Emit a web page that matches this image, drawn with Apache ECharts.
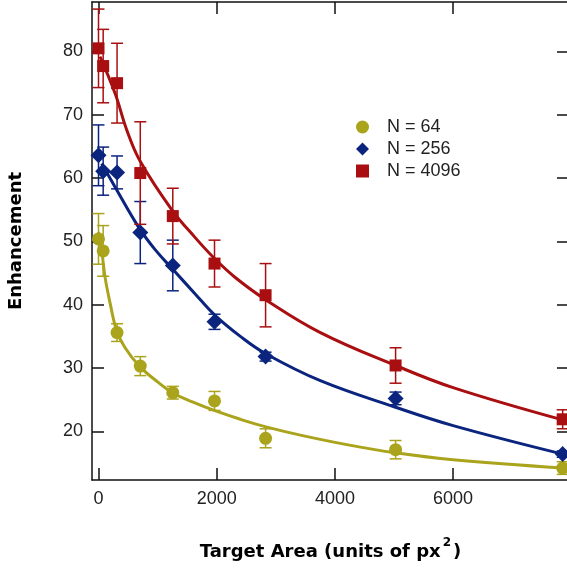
<!DOCTYPE html>
<html>
<head>
<meta charset="UTF-8">
<title>Enhancement vs Target Area</title>
<script src="https://cdn.jsdelivr.net/npm/echarts@6/dist/echarts.min.js"></script>
<style>
	html, body { margin: 0; padding: 0; background: #fff; }
	#chart { width: 567px; height: 569px; }
</style>
</head>
<body>
	<div id="chart"></div>
	<script>
	// target areas (px^2)
	var areas = [0, 79, 314, 707, 1257, 1963, 2827, 5027, 7854];
	// measured enhancement and error (+/-)
	var n64 = [50.4, 48.5, 35.6, 30.3, 26.1, 24.8, 18.9, 17.1, 14.2];
	var n64Err = [4.0, 4.0, 1.4, 1.5, 1.0, 1.5, 1.5, 1.45, 1.0];
	var n256 = [63.6, 61.1, 60.9, 51.4, 46.2, 37.3, 31.8, 25.2, 16.4];
	var n256Err = [4.8, 3.8, 2.6, 4.9, 4.0, 1.2, 0.7, 1.0, 0.5];
	var n4096 = [80.5, 77.7, 75.0, 60.8, 54.0, 46.5, 41.5, 30.4, 21.9];
	var n4096Err = [6.2, 5.8, 6.3, 8.1, 4.4, 3.7, 5.0, 2.8, 1.5];
	// fitted curves as [area, enhancement]
	var fit64 = [[0, 51.5], [54, 48.6], [110, 44.4], [195, 40.3], [308, 35.9], [450, 33.2],
		[692, 30.3], [1000, 27.8], [1251, 26.1], [1600, 24.6], [1958, 23.3], [2400, 21.9],
		[2834, 20.7], [3415, 19.4], [4200, 17.9], [5027, 16.6], [6000, 15.5], [7854, 14.2]];
	var fit256 = [[54, 62.3], [280, 58.6], [675, 52.3], [958, 48.7], [1257, 45.6], [1636, 41.7],
		[1963, 38.4], [2400, 35.0], [2822, 32.3], [3754, 28.0], [5027, 23.8], [6000, 20.9],
		[7854, 16.4]];
	var fit4096 = [[25, 79.2], [280, 73.4], [478, 67.6], [703, 62.7], [1241, 55.0], [1636, 50.6],
		[1963, 47.3], [2314, 44.3], [2827, 40.8], [3754, 35.6], [5027, 30.4], [6000, 26.9],
		[7854, 21.8]];
	var xTicks = [0, 2000, 4000, 6000];
	var yTicks = [20, 30, 40, 50, 60, 70, 80];
	var names = ['N = 64', 'N = 256', 'N = 4096'];

	var colors = ['#aaa31c', '#0b247e', '#a90f10'];
	var symbols = ['circle', 'diamond', 'rect'];
	var symbolSizes = [13, [16, 16], 12];
	var means = [n64, n256, n4096];
	var errs = [n64Err, n256Err, n4096Err];
	var fits = [fit64, fit256, fit4096];

	function errorBars(color) {
	    return function(params, api) {
		var x = api.value(0);
		var lo = api.coord([x, api.value(1)]);
		var hi = api.coord([x, api.value(2)]);
		var w = 6;
		var st = { stroke: color, lineWidth: 1.5 };
		return {
		    type : 'group',
		    children : [
			{ type : 'line', shape : { x1 : hi[0], y1 : hi[1], x2 : lo[0], y2 : lo[1] }, style : st },
			{ type : 'line', shape : { x1 : hi[0] - w, y1 : hi[1], x2 : hi[0] + w, y2 : hi[1] }, style : st },
			{ type : 'line', shape : { x1 : lo[0] - w, y1 : lo[1], x2 : lo[0] + w, y2 : lo[1] }, style : st }
		    ]
		};
	    };
	}

	var series = [];
	for (var i = 0; i < 3; i++) {
	    series.push({
		name : 'fit' + i,
		type : 'line',
		smooth : 0.4,
		symbol : 'none',
		data : fits[i],
		lineStyle : { color : colors[i], width : 3 },
		z : 2
	    });
	}
	for (var i = 0; i < 3; i++) {
	    var bars = areas.map(function(a, k) {
		return [a, means[i][k] - errs[i][k], means[i][k] + errs[i][k]];
	    });
	    series.push({
		name : 'err' + i,
		type : 'custom',
		renderItem : errorBars(colors[i]),
		data : bars,
		encode : { x : 0, y : [1, 2] },
		z : 3
	    });
	}
	for (var i = 0; i < 3; i++) {
	    series.push({
		name : names[i],
		type : 'scatter',
		symbol : symbols[i],
		symbolSize : symbolSizes[i],
		itemStyle : { color : colors[i], opacity : 1 },
		data : areas.map(function(a, k) { return [a, means[i][k]]; }),
		z : 4
	    });
	}

	var axisLine = { onZero : false, lineStyle : { color : '#111', width : 1.5 } };
	var tickStyle = { color : '#111', width : 1.5 };
	var labelFont = { fontFamily : 'Liberation Sans', fontSize : 18, color : '#222' };
	function plain(v) { return String(v); }

	var chart = echarts.init(document.getElementById('chart'));
	chart.setOption({
	    animation : false,
	    grid : { left : 92, right : -2, top : 2, bottom : 89, containLabel : false, outerBoundsMode : 'none' },
	    legend : {
		orient : 'vertical',
		left : 351,
		top : 113,
		itemWidth : 13,
		itemHeight : 13,
		itemGap : 4,
		data : [
		    { name : names[0], icon : 'circle' },
		    { name : names[1], icon : 'diamond' },
		    { name : names[2], icon : 'rect' }
		],
		textStyle : { fontFamily : 'Liberation Sans', fontSize : 18, color : '#222', padding : [0, 0, 0, 13] }
	    },
	    xAxis : [ {
		type : 'value',
		min : -110,
		max : 7961,
		axisLine : axisLine,
		splitLine : { show : false },
		axisTick : { inside : true, length : 12, lineStyle : tickStyle, customValues : xTicks },
		axisLabel : Object.assign({ margin : 10, customValues : xTicks, formatter : plain }, labelFont),
		name : 'Target Area (units of px{sup|2})',
		nameLocation : 'middle',
		nameGap : 57,
		nameTextStyle : {
		    fontFamily : 'DejaVu Sans', fontWeight : 'bold', fontSize : 18, color : '#000', lineHeight : 30,
		    rich : { sup : { fontFamily : 'DejaVu Sans', fontWeight : 'bold', fontSize : 12, lineHeight : 4, verticalAlign : 'top', padding : [0, 2, 0, 2] } }
		}
	    }, {
		type : 'value',
		position : 'top',
		min : -110,
		max : 7961,
		axisLine : axisLine,
		splitLine : { show : false },
		axisTick : { inside : true, length : 12, lineStyle : tickStyle, customValues : xTicks },
		axisLabel : { show : false }
	    } ],
	    yAxis : [ {
		type : 'value',
		min : 12.31,
		max : 87.82,
		axisLine : axisLine,
		splitLine : { show : false },
		axisTick : { inside : true, length : 12, lineStyle : tickStyle, customValues : yTicks },
		axisLabel : Object.assign({ margin : 9, customValues : yTicks, formatter : plain }, labelFont),
		name : 'Enhancement',
		nameLocation : 'middle',
		nameGap : 67,
		nameTextStyle : { fontFamily : 'DejaVu Sans', fontWeight : 'bold', fontSize : 18, color : '#000' }
	    }, {
		type : 'value',
		position : 'right',
		min : 12.31,
		max : 87.82,
		axisLine : axisLine,
		splitLine : { show : false },
		axisTick : { inside : true, length : 12, lineStyle : tickStyle, customValues : yTicks },
		axisLabel : { show : false }
	    } ],
	    series : series
	});
    </script>
</body>
</html>
